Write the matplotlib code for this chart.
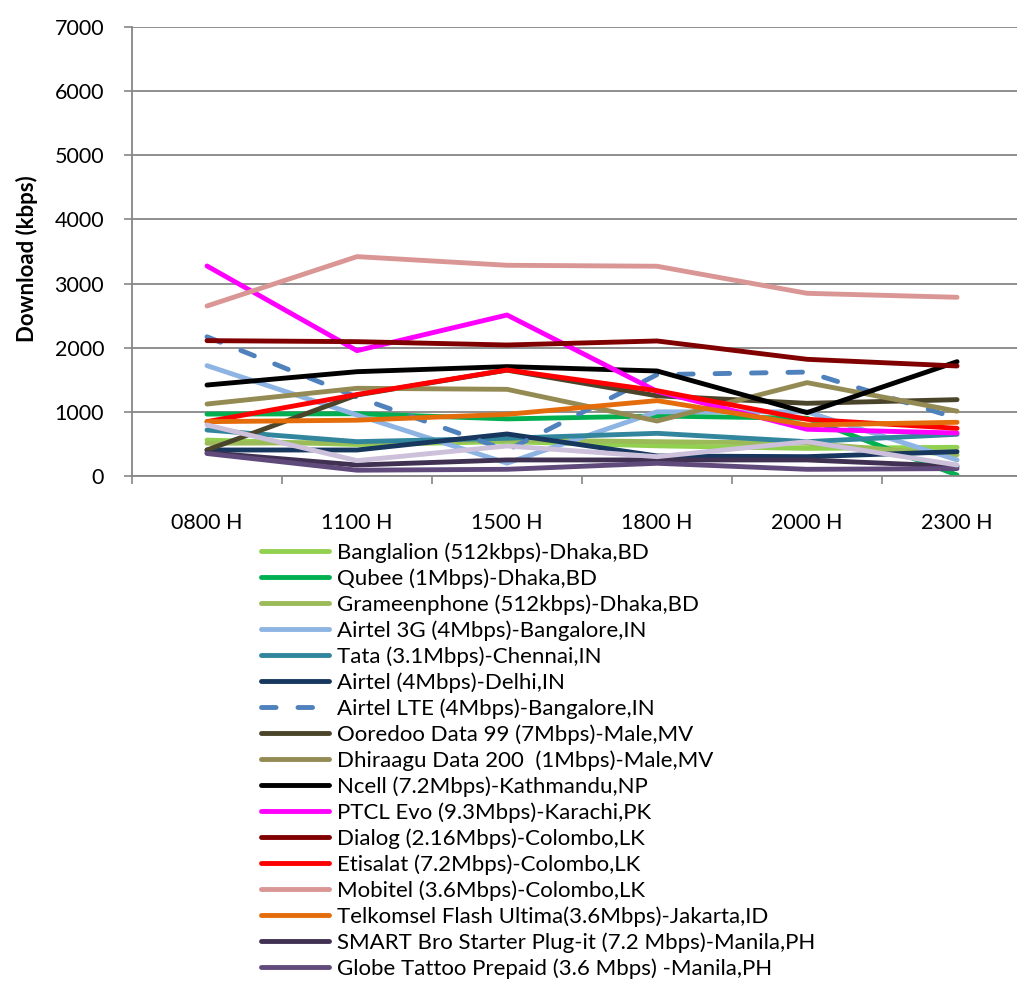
import matplotlib
matplotlib.use('Agg')
import matplotlib.pyplot as plt

plt.rcParams['font.family'] = ['Lato', 'DejaVu Sans']

hours = ['0800 H', '1100 H', '1500 H', '1800 H', '2000 H', '2300 H']

# download speed (kbps) per ISP at each hour
banglalion = [560, 490, 535, 470, 430, 447]
qubee = [965, 970, 890, 935, 900, 15]
grameenphone = [510, 520, 560, 535, 510, 330]
airtel_3g = [1720, 950, 200, 1000, 1000, 250]
tata = [717, 535, 588, 665, 535, 650]
airtel_delhi = [405, 405, 655, 312, 301, 379]
airtel_lte = [2170, 1230, 400, 1580, 1620, 900]
ooredoo = [405, 1263, 1650, 1250, 1133, 1190]
dhiraagu = [1122, 1367, 1351, 857, 1455, 1010]
ncell = [1418, 1626, 1705, 1637, 988, 1782]
ptcl = [3274, 1954, 2510, 1320, 728, 670]
dialog = [2110, 2094, 2042, 2105, 1819, 1715]
etisalat = [847, 1270, 1653, 1330, 884, 743]
mobitel = [2650, 3420, 3285, 3270, 2848, 2786]
telkomsel = [847, 870, 961, 1175, 795, 837]
smart_bro = [363, 171, 250, 250, 250, 150]
globe = [350, 90, 104, 198, 104, 115]
globe_postpaid = [795, 239, 468, 301, 535, 171]

series = [
    ('Banglalion (512kbps)-Dhaka,BD', banglalion, '#92D050', '-'),
    ('Qubee (1Mbps)-Dhaka,BD', qubee, '#00B050', '-'),
    ('Grameenphone (512kbps)-Dhaka,BD', grameenphone, '#9BBB59', '-'),
    ('Airtel 3G (4Mbps)-Bangalore,IN', airtel_3g, '#8DB4E2', '-'),
    ('Tata (3.1Mbps)-Chennai,IN', tata, '#31859C', '-'),
    ('Airtel (4Mbps)-Delhi,IN', airtel_delhi, '#17375E', '-'),
    ('Airtel LTE (4Mbps)-Bangalore,IN', airtel_lte, '#4F81BD', '--'),
    ('Ooredoo Data 99 (7Mbps)-Male,MV', ooredoo, '#4A452A', '-'),
    ('Dhiraagu Data 200  (1Mbps)-Male,MV', dhiraagu, '#948A54', '-'),
    ('Ncell (7.2Mbps)-Kathmandu,NP', ncell, '#000000', '-'),
    ('PTCL Evo (9.3Mbps)-Karachi,PK', ptcl, '#FF00FF', '-'),
    ('Dialog (2.16Mbps)-Colombo,LK', dialog, '#800000', '-'),
    ('Etisalat (7.2Mbps)-Colombo,LK', etisalat, '#FF0000', '-'),
    ('Mobitel (3.6Mbps)-Colombo,LK', mobitel, '#D99694', '-'),
    ('Telkomsel Flash Ultima(3.6Mbps)-Jakarta,ID', telkomsel, '#E46C0A', '-'),
    ('SMART Bro Starter Plug-it (7.2 Mbps)-Manila,PH', smart_bro, '#403152', '-'),
    ('Globe Tattoo Prepaid (3.6 Mbps) -Manila,PH', globe, '#604A7B', '-'),
    ('_nolegend_', globe_postpaid, '#CCC0DA', '-'),
]

grey = '#868686'
fig = plt.figure(figsize=(10.17, 9.82), dpi=100)
ax = fig.add_axes([0.1298, 0.5153, 0.885, 0.4572])

x = list(range(len(hours)))
for name, vals, col, ls in series:
    line, = ax.plot(x, vals, color=col, lw=3.5, label=name,
                    solid_capstyle='round', solid_joinstyle='round')
    if ls == '--':
        line.set_dashes((3, 4.5))
        line.set_dash_capstyle('round')

ax.set_xlim(-0.5, 5.5)
ax.set_ylim(0, 7000)
ax.set_yticks(range(0, 7001, 1000))
ax.set_xticks(x)
ax.set_xticklabels(hours)
ax.set_xticks([i - 0.5 for i in range(7)], minor=True)
ax.tick_params(axis='x', which='major', length=0, pad=27, labelsize=15.5)
ax.tick_params(axis='x', which='minor', length=6, width=1.2, color=grey)
ax.tick_params(axis='y', length=6, width=1.2, color=grey, pad=14, labelsize=15.5)

ax.grid(axis='y', color=grey, lw=1.3)
ax.set_axisbelow(True)
for s in ['top', 'right']:
    ax.spines[s].set_visible(False)
for s in ['left', 'bottom']:
    ax.spines[s].set_color(grey)
    ax.spines[s].set_linewidth(1.3)

ax.set_ylabel('Download (kbps)', fontsize=16, fontweight='bold')
ax.yaxis.set_label_coords(-0.104, 0.485)

fig.legend(loc='upper left', bbox_to_anchor=(0.257, 0.448), frameon=False,
           fontsize=16, handlelength=3.06, handletextpad=0.36,
           labelspacing=0.245, borderpad=0, borderaxespad=0)

fig.savefig('out.png', dpi=100)
